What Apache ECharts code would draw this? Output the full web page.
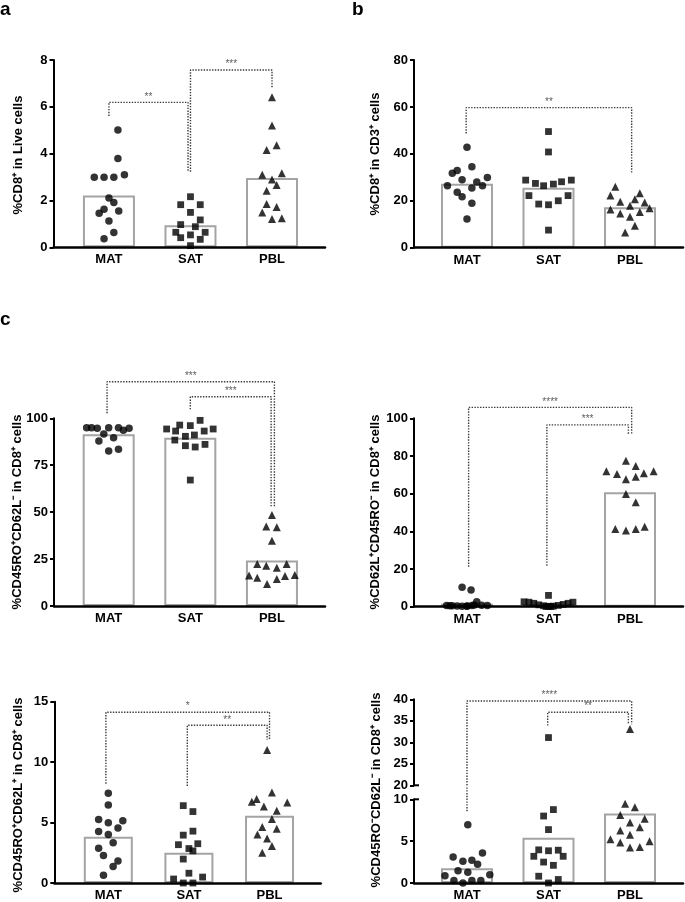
<!DOCTYPE html>
<html><head><meta charset="utf-8">
<script src="https://cdn.jsdelivr.net/npm/echarts@6/dist/echarts.min.js"></script>
<style>html,body{margin:0;padding:0;background:#fff}#c{width:685px;height:902px}</style>
</head><body><div id="c"></div>
<script>
const categories = ['MAT', 'SAT', 'PBL'];

// ---- panel a : %CD8+ in Live cells ----  points are [jitter, value]
const aYTicks = [0, 2, 4, 6, 8];
const aMeans = [2.21, 0.94, 2.96];
const aMAT = [[0.11,5.01],[0.11,3.79],[-0.18,2.99],[-0.06,2.99],[0.06,2.99],[0.19,3.10],[0,2.11],[0.06,1.91],[-0.06,1.62],[-0.12,1.45],[0.12,1.55],[0,1.12],[0.06,0.63],[-0.06,0.37]];
const aSAT = [[0,2.16],[-0.12,1.82],[0.12,1.82],[0,1.49],[-0.12,0.97],[0.12,1.17],[0.06,0.88],[-0.18,0.64],[0.18,0.64],[-0.12,0.41],[0,0.53],[0.12,0.34],[0,0.07]];
const aPBL = [[0,6.41],[0,5.20],[-0.066,4.16],[0.057,4.36],[-0.12,3.10],[0.12,3.16],[0,2.90],[0.057,2.66],[-0.066,2.42],[-0.066,1.85],[0.057,1.72],[-0.12,1.49],[0,1.21],[0.12,1.24]];
const aBrackets = [
  {x1:0, y1:5.61, top:6.19, x2:0.97, y2:3.23, stars:'**'},
  {x1:1.0, y1:3.23, top:7.57, x2:2.0, y2:6.79, stars:'***'}
];

// ---- panel b : %CD8+ in CD3+ cells ----
const bYTicks = [0, 20, 40, 60, 80];
const bMeans = [27.3, 25.6, 17.2];
const bMAT = [[0,42.8],[-0.12,32.9],[-0.18,31.7],[0.06,34.5],[-0.06,29.0],[0.12,28.0],[0.25,29.9],[-0.24,26.4],[0.06,25.4],[0.19,26.4],[-0.12,23.6],[-0.06,21.7],[0.06,18.9],[0,12.2]];
const bSAT = [[0,49.5],[0,40.8],[-0.28,28.8],[-0.16,27.4],[-0.06,26.4],[0.06,27.1],[0.16,28.1],[0.28,28.8],[-0.24,22.2],[-0.12,18.6],[0,18.3],[0.12,20.0],[0.24,22.2],[0,7.5]];
const bPBL = [[-0.18,26.0],[-0.24,22.2],[0.12,23.2],[-0.12,19.6],[0.06,20.6],[0.18,19.3],[-0.24,16.3],[-0.12,14.6],[0,17.9],[0.12,15.2],[0.24,16.8],[0,13.2],[0.06,9.4],[-0.06,6.5]];
const bBrackets = [
  {x1:-0.01, y1:48.7, top:59.7, x2:2.02, y2:31.7, stars:'**'}
];

// ---- panel c : %CD45RO+CD62L- in CD8+ cells ----
const cYTicks = [0, 25, 50, 75, 100];
const cMeans = [91.5, 89.7, 24.2];
const cMAT = [[-0.27,95.0],[-0.21,95.0],[-0.14,94.7],[0,95.0],[0.12,95.0],[0.18,93.6],[0.25,94.7],[-0.06,91.6],[0.06,89.7],[-0.12,87.9],[0,82.6],[0.12,83.5]];
const cSAT = [[-0.29,94.3],[-0.18,93.2],[-0.13,96.4],[0,96.1],[0.12,98.9],[0.17,93.2],[0.28,94.3],[-0.19,88.4],[-0.06,90.4],[0.05,91.1],[-0.06,85.4],[0.06,84.7],[0.18,86.1],[0,67.1]];
const cPBL = [[0,48.5],[-0.07,42.3],[0.06,41.9],[0,34.8],[-0.18,22.4],[-0.07,21.5],[0.06,20.4],[0.18,22.4],[-0.28,16.2],[-0.18,15.1],[-0.06,11.7],[0.06,14.4],[0.16,16.0],[0.28,16.5]];
const cBrackets = [
  {x1:-0.02, y1:102.7, top:119.5, x2:2.03, y2:52.9, stars:'***'},
  {x1:1.0, y1:104.8, top:111.5, x2:1.99, y2:52.9, stars:'***'}
];

// ---- panel d : %CD62L+CD45RO- in CD8+ cells ----
const dYTicks = [0, 20, 40, 60, 80, 100];
const dMeans = [1.6, 1.4, 60.7];
const dMAT = [[-0.06,10.3],[0.05,8.9],[-0.25,0.7],[-0.18,0.5],[-0.12,0.4],[-0.06,0.3],[0,0.4],[0.06,0.6],[0.12,2.6],[0.18,0.8],[0.25,0.6],[0,0.2],[0.09,0.9],[-0.21,0.5]];
const dSAT = [[0,6.0],[-0.3,2.6],[-0.24,2.4],[-0.18,1.8],[-0.12,1.0],[-0.06,0.5],[0,0.2],[0.06,0.3],[0.12,0.7],[0.18,1.2],[0.24,1.8],[0.3,2.4],[-0.03,0.1],[0.03,0.1]];
const dPBL = [[-0.29,71.9],[-0.16,70.4],[-0.05,67.6],[-0.05,77.5],[0.07,74.7],[0.07,69.0],[0.17,70.8],[0.29,71.9],[-0.05,59.8],[0.07,55.4],[-0.18,41.2],[-0.05,40.4],[0.07,41.2],[0.18,42.5]];
const dBrackets = [
  {x1:0.02, y1:21.2, top:105.8, x2:2.02, y2:91.2, stars:'****'},
  {x1:0.98, y1:21.8, top:96.5, x2:1.98, y2:91.2, stars:'***'}
];

// ---- panel e : %CD45RO+CD62L+ in CD8+ cells ----
const eYTicks = [0, 5, 10, 15];
const eMeans = [3.82, 2.50, 5.56];
const eMAT = [[0,7.43],[0,6.45],[-0.12,5.26],[0,4.99],[0.18,5.15],[-0.12,4.26],[0,4.01],[0.12,4.56],[-0.12,2.87],[0.06,3.34],[-0.06,2.28],[0.12,1.82],[0.06,1.36],[-0.06,0.65]];
const eSAT = [[-0.07,6.40],[0.05,5.91],[0.05,4.29],[-0.07,3.96],[-0.13,3.17],[0,2.85],[0.05,2.66],[0.11,3.25],[-0.07,1.98],[0,0.81],[-0.19,0.33],[0.17,0.49],[-0.07,0],[0.05,0]];
const ePBL = [[-0.03,11.01],[0.03,7.49],[-0.22,6.73],[-0.16,6.94],[-0.07,6.32],[0.22,6.67],[0.09,5.97],[0.03,5.29],[-0.09,4.64],[0.09,4.48],[-0.15,4.01],[-0.03,3.69],[0.03,3.06],[-0.09,2.50]];
const eBrackets = [
  {x1:-0.03, y1:8.22, top:14.13, x2:2.0, y2:11.88, stars:'*'},
  {x1:0.98, y1:8.03, top:13.05, x2:1.97, y2:11.88, stars:'**'}
];

// ---- panel f : %CD45RO-CD62L- in CD8+ cells (broken axis) ----
const fLowTicks = [0, 5, 10];
const fHighTicks = [20, 25, 30, 35, 40];
const fMeans = [1.77, 5.42, 8.3];
const fMAT = [[0.01,6.96],[-0.17,3.11],[-0.05,2.61],[0.06,2.73],[0.13,2.23],[0.19,3.58],[-0.11,1.46],[0.01,1.27],[-0.27,0.88],[0.28,1.0],[-0.16,0.31],[0.06,0.31],[0.17,0.31],[-0.05,0]];
const fSAT = [[0,31.1],[0.06,8.77],[-0.06,8.0],[0,6.38],[-0.12,3.96],[0,3.85],[0.12,3.92],[-0.18,3.19],[0.18,3.19],[-0.06,2.5],[0.06,2.11],[-0.12,0.81],[0.12,0.42],[0,0]];
const fPBL = [[0,33.1],[-0.06,9.46],[0.06,9.04],[-0.12,8.12],[0,7.23],[0.18,7.69],[-0.12,6.27],[0,5.77],[0.12,6.65],[-0.24,5.23],[-0.12,4.85],[0,4.23],[0.12,4.31],[0.24,5.0]];
const fBrackets = [
  {x1:0, y1:8.58, top:39.6, x2:2.02, y2:34.2, stars:'****', fromLower:true},
  {x1:0.99, y1:33.9, top:37.0, x2:1.98, y2:34.2, stars:'**'}
];

const yTitles = {
  a: '%CD8\u207A in Live cells',
  b: '%CD8\u207A in CD3\u207A cells',
  c: '%CD45RO\u207ACD62L\u207B in CD8\u207A cells',
  d: '%CD62L\u207ACD45RO\u207B in CD8\u207A cells',
  e: '%CD45RO\u207ACD62L\u207A in CD8\u207A cells',
  f: '%CD45RO\u207BCD62L\u207B in CD8\u207A cells'
};

// ------------------------------------------------------------------
const FONT = '"Liberation Sans", Arial, Helvetica, sans-serif';
const SYMBOLS = ['circle', 'rect', 'triangle'];
const SIZES = [7.5, 6.8, 8];
const DOT = {color: '#3a3a3a', width: 1.4, type: [1.4, 1.4]};

const grids = [], xAxes = [], yAxes = [], series = [];

function addGrid(L, T, W, H, xmin, xmax, ticks, showX) {
  const gi = grids.length;
  grids.push({left: L, top: T, width: W, height: H});
  xAxes.push({
    gridIndex: gi, type: 'value', min: xmin, max: xmax, show: showX, z: 10,
    axisLine: {onZero: false, lineStyle: {color: '#000', width: 2.5}},
    axisTick: {show: false}, splitLine: {show: false},
    axisLabel: {customValues: [0, 1, 2], formatter: v => categories[Math.round(v)],
      margin: 6, fontWeight: 'bold', fontSize: 13, color: '#000', fontFamily: FONT}
  });
  yAxes.push({
    gridIndex: gi, type: 'value', min: ticks[0], max: ticks[ticks.length - 1],
    interval: ticks[1] - ticks[0], z: 10,
    axisLine: {show: true, onZero: false, lineStyle: {color: '#000', width: 2}},
    axisTick: {show: true, length: 4, lineStyle: {color: '#000', width: 2}},
    splitLine: {show: false},
    axisLabel: {margin: 6, fontWeight: 'bold', fontSize: 13, color: '#000', fontFamily: FONT}
  });
  return gi;
}

function addBars(gi, means, bw) {
  series.push({type: 'bar', xAxisIndex: gi, yAxisIndex: gi, barWidth: bw, z: 2, silent: true,
    data: means.map((m, i) => [i, m]),
    itemStyle: {color: '#fff', borderColor: '#a4a4a4', borderWidth: 2}});
}

function addPoints(gi, groups, filter) {
  groups.forEach((g, i) => {
    const pts = g.filter(p => filter(p[1]));
    series.push({type: 'scatter', xAxisIndex: gi, yAxisIndex: gi, z: 20, silent: true,
      symbol: SYMBOLS[i], symbolSize: SIZES[i], itemStyle: {color: '#000'},
      data: pts.map(p => [i + p[0], p[1]])});
  });
}

function addLine(gi, pts) {
  series.push({type: 'line', xAxisIndex: gi, yAxisIndex: gi, z: 15, clip: false, silent: true,
    symbol: 'none', lineStyle: DOT, data: pts});
}
function addStars(gi, b) {
  series.push({type: 'scatter', xAxisIndex: gi, yAxisIndex: gi, z: 16, clip: false, silent: true,
    symbolSize: 1, itemStyle: {color: 'rgba(0,0,0,0)'},
    label: {show: true, position: 'top', distance: 0, formatter: b.stars,
      fontSize: 10, color: '#333', fontFamily: FONT},
    data: [[(b.x1 + b.x2) / 2, b.top]]});
}
function addBrackets(gi, brs) {
  brs.forEach(b => {
    addLine(gi, [[b.x1, b.y1], [b.x1, b.top], [b.x2, b.top], [b.x2, b.y2]]);
    addStars(gi, b);
  });
}

function panel(lay, ticks, means, groups, brs) {
  const gi = addGrid(lay.L, lay.T, lay.W, lay.H, lay.xmin, lay.xmax, ticks, true);
  addBars(gi, means, lay.bw);
  addPoints(gi, groups, () => true);
  addBrackets(gi, brs);
}

const LAY = {
  a: {L: 53.5, T: 60, W: 271.5, H: 187.3, xmin: -0.68, xmax: 2.65, bw: 52},
  b: {L: 414, T: 60, W: 269, H: 187.7, xmin: -0.65, xmax: 2.65, bw: 52},
  c: {L: 54, T: 418.3, W: 271, H: 187.7, xmin: -0.67, xmax: 2.65, bw: 52},
  d: {L: 414, T: 418.3, W: 269, H: 188.4, xmin: -0.65, xmax: 2.65, bw: 52},
  e: {L: 54.3, T: 701.7, W: 266.4, H: 184.3, xmin: -0.67, xmax: 2.635, bw: 49},
  fLow: {L: 414, T: 799.3, W: 269, H: 86.7, xmin: -0.65, xmax: 2.65, bw: 52},
  fHigh: {L: 414, T: 699.3, W: 269, H: 86, xmin: -0.65, xmax: 2.65}
};

panel(LAY.a, aYTicks, aMeans, [aMAT, aSAT, aPBL], aBrackets);
panel(LAY.b, bYTicks, bMeans, [bMAT, bSAT, bPBL], bBrackets);
panel(LAY.c, cYTicks, cMeans, [cMAT, cSAT, cPBL], cBrackets);
panel(LAY.d, dYTicks, dMeans, [dMAT, dSAT, dPBL], dBrackets);
panel(LAY.e, eYTicks, eMeans, [eMAT, eSAT, ePBL], eBrackets);

// f : two stacked grids
const fl = LAY.fLow, fh = LAY.fHigh;
const giLow = addGrid(fl.L, fl.T, fl.W, fl.H, fl.xmin, fl.xmax, fLowTicks, true);
const giHigh = addGrid(fh.L, fh.T, fh.W, fh.H, fh.xmin, fh.xmax, fHighTicks, false);
addBars(giLow, fMeans, fl.bw);
const lowMax = fLowTicks[fLowTicks.length - 1], highMin = fHighTicks[0];
addPoints(giLow, [fMAT, fSAT, fPBL], v => v <= lowMax);
addPoints(giHigh, [fMAT, fSAT, fPBL], v => v >= highMin);
const gapPx = fl.T - (fh.T + fh.H);
const lowScale = fl.H / (lowMax - fLowTicks[0]);
fBrackets.forEach(b => {
  if (b.fromLower) {
    addLine(giLow, [[b.x1, b.y1], [b.x1, lowMax + gapPx / lowScale]]);
    addLine(giHigh, [[b.x1, highMin], [b.x1, b.top], [b.x2, b.top], [b.x2, b.y2]]);
  } else {
    addLine(giHigh, [[b.x1, b.y1], [b.x1, b.top], [b.x2, b.top], [b.x2, b.y2]]);
  }
  addStars(giHigh, b);
});

// titles / letters
const titleFont = 'bold 13px ' + FONT;
function vText(x, y, t) {
  return {type: 'text', x: x, y: y, rotation: Math.PI / 2,
    style: {text: t, font: titleFont, fill: '#000', align: 'center', verticalAlign: 'middle'}};
}
function letter(x, y, t) {
  return {type: 'text', x: x, y: y,
    style: {text: t, font: 'bold 19px ' + FONT, fill: '#000', align: 'left', verticalAlign: 'top'}};
}
const graphics = [
  letter(0, 0, 'a'), letter(352, 0, 'b'), letter(0, 310, 'c'),
  vText(18, 155, yTitles.a), vText(375, 154, yTitles.b),
  vText(17.5, 512, yTitles.c), vText(375, 512, yTitles.d),
  vText(18, 795, yTitles.e), vText(376, 790, yTitles.f)
];

const chart = echarts.init(document.getElementById('c'), null, {renderer: 'canvas'});
chart.setOption({
  animation: false,
  backgroundColor: '#fff',
  grid: grids, xAxis: xAxes, yAxis: yAxes, series: series, graphic: graphics
});

// axis-break caps on f
const pHigh = chart.convertToPixel({gridIndex: giHigh}, [fh.xmin, highMin]);
const pLow = chart.convertToPixel({gridIndex: giLow}, [fl.xmin, lowMax]);
graphics.push(
  {type: 'line', shape: {x1: pHigh[0], y1: pHigh[1], x2: pHigh[0] + 5, y2: pHigh[1]}, style: {stroke: '#000', lineWidth: 2}, z: 100},
  {type: 'line', shape: {x1: pLow[0], y1: pLow[1], x2: pLow[0] + 5, y2: pLow[1]}, style: {stroke: '#000', lineWidth: 2}, z: 100}
);
chart.setOption({graphic: graphics});
</script></body></html>
